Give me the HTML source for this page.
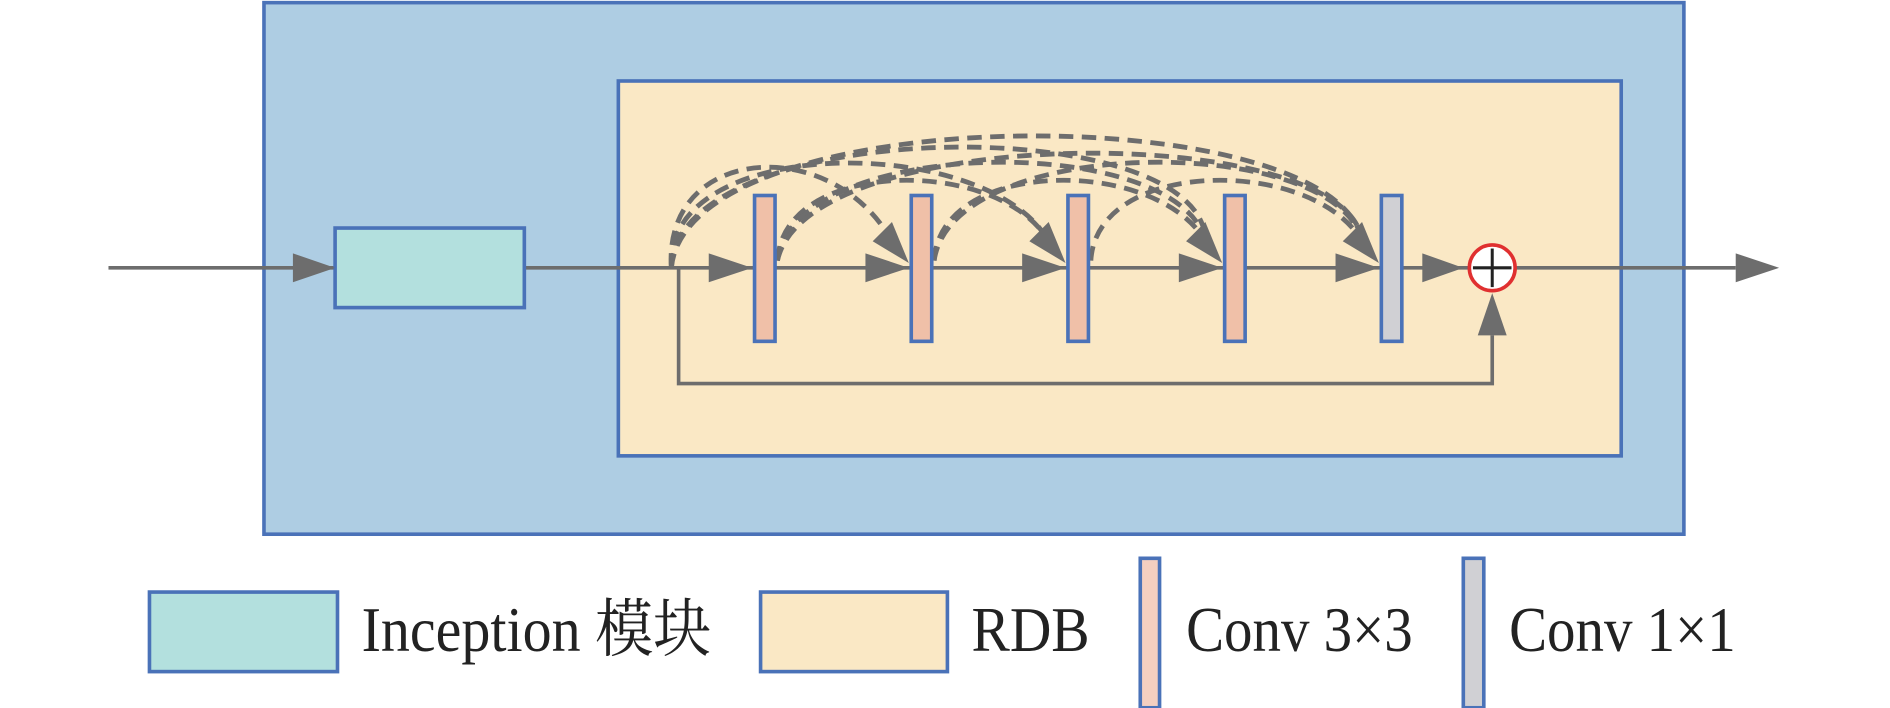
<!DOCTYPE html>
<html><head><meta charset="utf-8"><style>html,body{margin:0;padding:0;background:#fff;}svg{display:block}</style></head>
<body>
<svg width="1890" height="708" viewBox="0 0 1568 587" xmlns="http://www.w3.org/2000/svg">
<rect x="219" y="2" width="1178" height="441" fill="#aecde3" stroke="#4a72b8" stroke-width="3"/>
<rect x="513" y="67" width="832" height="311" fill="#fae8c5" stroke="#4a72b8" stroke-width="3"/>
<g stroke="#6d6d6d" stroke-width="3" fill="none">
<line x1="90" y1="222" x2="1440" y2="222"/>
<polyline points="563,222 563,318 1238,318 1238,278"/>
</g>
<rect x="278" y="189" width="157" height="66" fill="#b3e0de" stroke="#4a72b8" stroke-width="3"/>
<g fill="#6d6d6d">
<path d="M243,210L278,222L243,234z"/>
<path d="M588,210L624,222L588,234z"/>
<path d="M718,210L754,222L718,234z"/>
<path d="M848,210L884,222L848,234z"/>
<path d="M978,210L1014,222L978,234z"/>
<path d="M1108,210L1144,222L1108,234z"/>
<path d="M1180,210L1214,222L1180,234z"/>
<path d="M1440,210L1476,222L1440,234z"/>
<path d="M1226,278L1238,243L1250,278z"/>
</g>
<g stroke="#6d6d6d" stroke-width="4" fill="none" stroke-dasharray="12,7">
<path d="M557,222 C550,120 690,110 740,200"/>
<path d="M557,222 C550,110 820,110 870,200"/>
<path d="M557,222 C560,95 1000,90 1000,200"/>
<path d="M557,222 C570,80 1110,80 1130,200"/>
<path d="M645,216 C650,130 830,130 870,200"/>
<path d="M645,216 C660,110 980,110 1000,200"/>
<path d="M645,216 C670,100 1120,100 1130,200"/>
<path d="M775,216 C780,130 960,130 1000,200"/>
<path d="M775,216 C790,110 1110,110 1130,200"/>
<path d="M905,216 C910,130 1090,130 1130,200"/>
</g>
<g fill="#6d6d6d">
<path d="M724,200L754,218L740,184z"/>
<path d="M854,200L884,218L870,184z"/>
<path d="M984,200L1014,218L1000,184z"/>
<path d="M1114,200L1144,218L1130,184z"/>
</g>
<g stroke="#4a72b8" stroke-width="3">
<rect x="626" y="162" width="17" height="121" fill="#f0c0a8"/>
<rect x="756" y="162" width="17" height="121" fill="#f0c0a8"/>
<rect x="886" y="162" width="17" height="121" fill="#f0c0a8"/>
<rect x="1016" y="162" width="17" height="121" fill="#f0c0a8"/>
<rect x="1146" y="162" width="17" height="121" fill="#d0d0d4"/>
</g>
<circle cx="1238" cy="222" r="19" fill="#fff" stroke="#e03030" stroke-width="3"/>
<line x1="1222" y1="222" x2="1254" y2="222" stroke="#222" stroke-width="2.5"/>
<line x1="1238" y1="206" x2="1238" y2="238" stroke="#222" stroke-width="2.5"/>
<g stroke="#4a72b8" stroke-width="3">
<rect x="124" y="491" width="156" height="66" fill="#b3e0de"/>
<rect x="631" y="491" width="155" height="66" fill="#fae8c5"/>
<rect x="946" y="463" width="16" height="124" fill="#f4cfc0"/>
<rect x="1214" y="463" width="17" height="124" fill="#d0d0d4"/>
</g>
<g font-family="'Liberation Serif','Noto Serif CJK SC',serif" font-size="46" fill="#222" transform="translate(0,540) scale(1,1.15) translate(0,-540)">
<text x="300" y="540" textLength="290" lengthAdjust="spacingAndGlyphs">Inception 模块</text>
<text x="806" y="540" textLength="98" lengthAdjust="spacingAndGlyphs">RDB</text>
<text x="984" y="540" textLength="188" lengthAdjust="spacingAndGlyphs">Conv 3×3</text>
<text x="1252" y="540" textLength="188" lengthAdjust="spacingAndGlyphs">Conv 1×1</text>
</g>
</svg>
</body></html>
